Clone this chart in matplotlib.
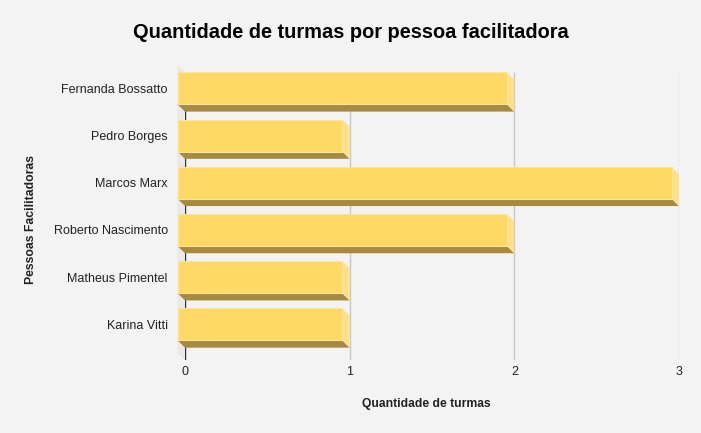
import numpy as np
import matplotlib.pyplot as plt
from matplotlib.patches import Polygon

plt.rcParams['font.family'] = 'Liberation Sans'

pessoas = ['Fernanda Bossatto', 'Pedro Borges', 'Marcos Marx',
           'Roberto Nascimento', 'Matheus Pimentel', 'Karina Vitti']
turmas = [2, 1, 3, 2, 1, 1]
xticks = [0, 1, 2, 3]

W, H = 701, 433
fig = plt.figure(figsize=(W / 100, H / 100), dpi=100, facecolor='#f3f3f3')
ax = fig.add_axes([185 / W, (H - 360) / H, (679 - 185) / W, (360 - 72) / H])
ax.set_facecolor('#f3f3f3')
ax.set_xlim(0, 3)
ax.set_ylim(5.6, -0.5)

# fake 3d depth, in data units
dx = 7.5 / 164.7
dy = 7.3 / 47.2
h = 0.678

y = np.arange(len(pessoas))

# left wall
ax.add_patch(Polygon([(-dx, -0.5 - dy), (0, -0.5), (0, 5.6), (-dx, 5.6 - dy)],
                     closed=True, facecolor='#e9e9e9', edgecolor='none',
                     clip_on=False, zorder=0))

ax.vlines(xticks[1:], -0.5, 5.6, color='#c8c8c8', lw=1, zorder=1)
ax.axvline(0, ymin=0, ymax=1, color='#333333', lw=1, zorder=1)

for yc, v in zip(y, turmas):
    bottom = [(-dx, yc - dy + h / 2), (v - dx, yc - dy + h / 2),
              (v, yc + h / 2), (0, yc + h / 2)]
    side = [(v - dx, yc - dy - h / 2), (v, yc - h / 2),
            (v, yc + h / 2), (v - dx, yc - dy + h / 2)]
    ax.add_patch(Polygon(bottom, closed=True, facecolor='#a68a40',
                         edgecolor='none', clip_on=False, zorder=2))
    ax.add_patch(Polygon(side, closed=True, facecolor='#ffe08a',
                         edgecolor='none', clip_on=False, zorder=2))

ax.barh(y - dy, turmas, left=-dx, height=h, color='#ffd966',
        edgecolor='#ffe59c', linewidth=0.8, clip_on=False, zorder=3)

for s in ax.spines.values():
    s.set_visible(False)

ax.set_xticks(xticks)
ax.set_xticklabels([str(t) for t in xticks])
ax.set_yticks(y - dy)
ax.set_yticklabels(pessoas)
ax.tick_params(axis='x', length=0, pad=4.5, labelsize=9, labelcolor='#222222')
ax.tick_params(axis='y', length=0, pad=12.5, labelsize=9, labelcolor='#222222')

fig.text(350.5 / W, 1 - 33 / H, 'Quantidade de turmas por pessoa facilitadora',
         ha='center', va='center', fontsize=14.4, fontweight='bold', color='#000000')
fig.text(426 / W, 1 - 404 / H, 'Quantidade de turmas', ha='center', va='center',
         fontsize=8.7, fontweight='bold', color='#222222')
fig.text(31 / W, 1 - 219 / H, 'Pessoas Facilitadoras', ha='center', va='center',
         rotation=90, fontsize=8.8, fontweight='bold', color='#222222')

fig.savefig('out.png', dpi=100, facecolor=fig.get_facecolor())
